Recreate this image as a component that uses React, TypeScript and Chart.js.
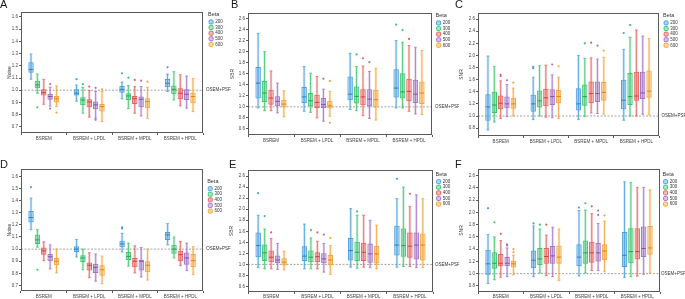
import React, { useEffect, useRef } from 'react';
import { Chart, registerables } from 'chart.js';

Chart.register(...registerables);
Chart.defaults.font.family = '"Liberation Sans", Arial, sans-serif';

// ---------- categories & labels ----------
const groups = ['BSREM', 'BSREM + LPDL', 'BSREM + MPDL', 'BSREM + HPDL'];
const betas = ['200', '300', '400', '500', '600'];
const noiseTicks = [0.7, 0.8, 0.9, 1.0, 1.1, 1.2, 1.3, 1.4, 1.5, 1.6];
const ratioTicksSBR = [0.6, 0.8, 1.0, 1.2, 1.4, 1.6, 1.8, 2.0, 2.2, 2.4, 2.6];
const ratioTicksSNR = [0.8, 1.0, 1.2, 1.4, 1.6, 1.8, 2.0, 2.2, 2.4, 2.6];
const referenceValue = 1.0;
const referenceLabel = 'OSEM+PSF';

// ---------- box statistics: [lower whisker, Q1, median, Q3, upper whisker] per group ----------
// Panel A – Noise
const A_200 = [[1.09, 1.143, 1.17, 1.228, 1.296], [0.91, 0.956, 0.975, 1.007, 1.043], [0.929, 0.98, 1.007, 1.035, 1.067], [0.99, 1.024, 1.057, 1.092, 1.133]];
const A_300 = [[0.975, 1.016, 1.043, 1.078, 1.133], [0.812, 0.877, 0.92, 0.942, 1.024], [0.85, 0.92, 0.953, 0.975, 1.038], [0.92, 0.967, 1.007, 1.038, 1.152]];
const A_400 = [[0.885, 0.956, 0.98, 1.007, 1.089], [0.78, 0.861, 0.904, 0.926, 0.997], [0.812, 0.888, 0.93, 0.953, 1.03], [0.872, 0.926, 0.975, 1.016, 1.127]];
const A_500 = [[0.87, 0.923, 0.948, 0.97, 1.024], [0.77, 0.845, 0.88, 0.907, 0.99], [0.79, 0.861, 0.926, 0.948, 1.03], [0.853, 0.92, 0.967, 1.007, 1.116]];
const A_600 = [[0.866, 0.899, 0.93, 0.953, 1.035], [0.744, 0.825, 0.866, 0.888, 0.99], [0.77, 0.853, 0.907, 0.934, 1.024], [0.825, 0.893, 0.948, 0.98, 1.097]];
// [group, beta, value]
const A_out = [[0, 1, 0.86], [0, 3, 1.05], [0, 3, 0.85], [0, 4, 0.817], [1, 0, 1.09], [1, 1, 1.05], [1, 2, 1.03], [1, 3, 1.02], [1, 3, 0.758], [1, 4, 1.007], [2, 0, 1.138], [2, 1, 1.103], [2, 2, 1.084], [2, 3, 1.078], [2, 4, 1.07], [3, 0, 1.187]];

// Panel B – SBR
const B_200 = [[0.98, 1.15, 1.43, 1.72, 2.33], [0.92, 1.07, 1.18, 1.36, 1.73], [0.95, 1.12, 1.23, 1.55, 1.97], [0.98, 1.17, 1.34, 1.68, 2.2]];
const B_300 = [[0.93, 1.09, 1.25, 1.47, 2.0], [0.9, 1.01, 1.11, 1.25, 1.61], [0.93, 1.06, 1.19, 1.37, 1.73], [0.98, 1.15, 1.27, 1.61, 2.17]];
const B_400 = [[0.93, 1.04, 1.16, 1.31, 1.65], [0.8, 0.98, 1.08, 1.22, 1.55], [0.84, 1.03, 1.18, 1.32, 1.74], [0.92, 1.1, 1.28, 1.51, 2.11]];
const B_500 = [[0.89, 1.01, 1.1, 1.19, 1.43], [0.74, 0.98, 1.04, 1.16, 1.32], [0.79, 1.01, 1.14, 1.32, 1.64], [0.87, 1.07, 1.23, 1.49, 2.08]];
const B_600 = [[0.82, 0.99, 1.05, 1.13, 1.29], [0.83, 0.97, 1.02, 1.11, 1.28], [0.76, 0.99, 1.13, 1.31, 1.7], [0.86, 1.05, 1.25, 1.46, 2.02]];
const B_out = [[1, 3, 1.51], [1, 4, 1.47], [1, 4, 0.71], [2, 1, 1.95], [2, 2, 1.88], [2, 3, 1.81], [3, 0, 2.49], [3, 1, 2.39], [3, 2, 2.23]];

// Panel C – SNR
const C_200 = [[0.77, 0.92, 1.15, 1.36, 1.99], [0.94, 1.07, 1.2, 1.35, 1.64], [0.94, 1.09, 1.2, 1.46, 2.0], [0.93, 1.11, 1.26, 1.6, 2.1]];
const C_300 = [[0.9, 1.05, 1.18, 1.4, 1.82], [1.0, 1.14, 1.25, 1.42, 1.83], [0.99, 1.17, 1.32, 1.52, 1.95], [1.0, 1.18, 1.32, 1.71, 2.3]];
const C_400 = [[0.96, 1.11, 1.21, 1.34, 1.58], [0.98, 1.16, 1.3, 1.45, 1.84], [1.05, 1.21, 1.37, 1.57, 1.96], [1.0, 1.25, 1.33, 1.73, 2.42]];
const C_500 = [[0.99, 1.13, 1.2, 1.32, 1.52], [0.97, 1.18, 1.32, 1.44, 1.68], [1.04, 1.23, 1.37, 1.57, 1.94], [1.03, 1.28, 1.38, 1.73, 2.32]];
const C_600 = [[1.0, 1.12, 1.2, 1.3, 1.46], [0.96, 1.21, 1.32, 1.43, 1.64], [1.03, 1.25, 1.39, 1.56, 1.97], [1.02, 1.3, 1.41, 1.75, 2.28]];
const C_out = [[0, 2, 1.68], [0, 2, 1.66], [0, 3, 1.59], [0, 4, 1.55], [1, 0, 1.81], [1, 0, 1.79], [1, 3, 1.85], [1, 4, 1.82], [2, 1, 2.2], [2, 2, 2.21], [2, 3, 2.16], [2, 4, 2.08], [3, 0, 2.37], [3, 1, 2.5]];

// Panel D – Noise
const D_200 = [[1.16, 1.22, 1.26, 1.315, 1.42], [0.935, 0.976, 1.0, 1.024, 1.08], [0.976, 1.016, 1.043, 1.068, 1.13], [1.035, 1.076, 1.117, 1.14, 1.21]];
const D_300 = [[1.016, 1.043, 1.076, 1.12, 1.16], [0.83, 0.894, 0.927, 0.95, 1.0], [0.86, 0.91, 0.94, 0.976, 1.05], [0.927, 0.962, 1.0, 1.035, 1.1]];
const D_400 = [[0.905, 0.954, 0.986, 1.014, 1.06], [0.764, 0.823, 0.867, 0.89, 0.97], [0.804, 0.85, 0.9, 0.927, 1.027], [0.864, 0.9, 0.954, 0.986, 1.063]];
const D_500 = [[0.837, 0.9, 0.937, 0.96, 1.035], [0.736, 0.804, 0.85, 0.88, 0.96], [0.77, 0.823, 0.9, 0.913, 1.014], [0.823, 0.872, 0.927, 0.973, 1.05]];
const D_600 = [[0.804, 0.867, 0.9, 0.927, 1.0], [0.715, 0.78, 0.83, 0.867, 0.943], [0.745, 0.81, 0.867, 0.9, 1.0], [0.79, 0.85, 0.905, 0.96, 1.02]];
const D_out = [[0, 0, 1.51], [0, 1, 0.83], [2, 0, 1.18], [2, 0, 1.17]];

// Panel E – SBR
const E_200 = [[0.94, 1.13, 1.34, 1.58, 1.89], [0.92, 1.06, 1.15, 1.33, 1.73], [0.95, 1.07, 1.25, 1.48, 2.01], [0.95, 1.16, 1.35, 1.7, 2.19]];
const E_300 = [[0.92, 1.06, 1.21, 1.36, 1.64], [0.92, 1.04, 1.13, 1.25, 1.48], [0.93, 1.06, 1.22, 1.41, 1.89], [0.96, 1.14, 1.34, 1.65, 2.4]];
const E_400 = [[0.92, 1.04, 1.13, 1.25, 1.47], [0.92, 1.04, 1.14, 1.22, 1.42], [0.95, 1.06, 1.22, 1.39, 1.89], [0.96, 1.12, 1.33, 1.58, 2.05]];
const E_500 = [[0.91, 1.02, 1.08, 1.16, 1.38], [0.86, 1.02, 1.1, 1.2, 1.38], [0.94, 1.03, 1.19, 1.38, 1.8], [0.94, 1.09, 1.35, 1.58, 2.26]];
const E_600 = [[0.9, 0.98, 1.04, 1.11, 1.24], [0.82, 0.99, 1.08, 1.17, 1.34], [0.92, 1.02, 1.19, 1.34, 1.71], [0.94, 1.07, 1.35, 1.56, 2.19]];
const E_out = [[0, 0, 2.29], [0, 1, 1.875], [0, 2, 1.58], [1, 1, 1.62], [1, 2, 1.58], [1, 3, 1.54], [1, 4, 1.48], [2, 1, 1.96], [3, 0, 2.55], [3, 2, 2.28]];

// Panel F – SNR
const F_200 = [[0.84, 0.98, 1.16, 1.39, 1.64], [0.95, 1.09, 1.22, 1.38, 1.78], [0.96, 1.12, 1.27, 1.48, 2.03], [0.94, 1.11, 1.3, 1.68, 2.5]];
const F_300 = [[0.9, 1.08, 1.17, 1.35, 1.6], [1.01, 1.14, 1.24, 1.42, 1.73], [1.01, 1.16, 1.34, 1.54, 2.04], [0.95, 1.17, 1.36, 1.74, 2.49]];
const F_400 = [[0.94, 1.12, 1.17, 1.32, 1.54], [0.97, 1.16, 1.28, 1.42, 1.63], [1.05, 1.18, 1.34, 1.52, 1.98], [0.96, 1.23, 1.36, 1.74, 2.41]];
const F_500 = [[0.95, 1.12, 1.17, 1.27, 1.42], [0.95, 1.16, 1.29, 1.45, 1.76], [1.05, 1.2, 1.34, 1.5, 1.82], [0.99, 1.27, 1.41, 1.77, 2.41]];
const F_600 = [[0.98, 1.1, 1.16, 1.21, 1.3], [0.89, 1.16, 1.27, 1.46, 1.73], [1.03, 1.22, 1.37, 1.48, 1.86], [1.01, 1.31, 1.42, 1.78, 2.37]];
const F_out = [[0, 0, 2.07], [0, 1, 1.84], [0, 2, 1.65], [0, 3, 1.48], [0, 3, 1.46], [0, 4, 1.4], [0, 4, 1.35], [1, 0, 1.82], [1, 1, 1.8], [1, 2, 1.8], [2, 0, 2.08], [2, 1, 2.15], [2, 2, 2.1], [2, 3, 2.03], [2, 3, 1.96], [2, 4, 1.95]];

// ---------- styles ----------
const lineColors = ['#4AA0DE', '#3CC56F', '#E6625D', '#A274C6', '#F2A53A'];
const fillColors = ['rgba(74,160,222,0.42)', 'rgba(60,197,111,0.42)', 'rgba(230,98,93,0.42)', 'rgba(162,116,198,0.42)', 'rgba(242,165,58,0.42)'];
const medianColors = ['#2E7DBE', '#27A055', '#C8443F', '#8152A8', '#D7861A'];
const bandColors = ['rgba(74,160,222,0.28)', 'rgba(60,197,111,0.28)', 'rgba(230,98,93,0.28)', 'rgba(162,116,198,0.28)', 'rgba(242,165,58,0.28)'];

type Panel = {
  letter: string; yTitle: string; series: number[][][]; outliers: number[][];
  ticks: number[]; min: number; max: number;
  left: number; top: number; w: number; h: number;
  padL: number; yW: number; chartTop: number; xH: number; xPad: number; legendW: number; gap: number;
  legendTitleTop: number; letterX: number; letterY: number; refOffset: number;
};

const panels: Panel[] = [
  { letter: 'A', yTitle: 'Noise', series: [A_200, A_300, A_400, A_500, A_600], outliers: A_out, ticks: noiseTicks, min: 0.65, max: 1.64,
    left: 0, top: 0, w: 232, h: 146, padL: 7, yW: 14, chartTop: 12, xH: 13, xPad: 1, legendW: 24, gap: 5, legendTitleTop: 0, letterX: 0, letterY: 8, refOffset: 3 },
  { letter: 'B', yTitle: 'SBR', series: [B_200, B_300, B_400, B_500, B_600], outliers: B_out, ticks: ratioTicksSBR, min: 0.49, max: 2.7,
    left: 228, top: 0, w: 231, h: 146, padL: 2, yW: 18, chartTop: 13, xH: 11, xPad: 1, legendW: 23.5, gap: 3.5, legendTitleTop: 0, letterX: 3, letterY: 8, refOffset: 3 },
  { letter: 'C', yTitle: 'SNR', series: [C_200, C_300, C_400, C_500, C_600], outliers: C_out, ticks: ratioTicksSNR, min: 0.67, max: 2.7,
    left: 455, top: 0, w: 230, h: 146, padL: 4, yW: 19, chartTop: 13, xH: 10, xPad: 1, legendW: 22, gap: 4, legendTitleTop: 0, letterX: 0, letterY: 8, refOffset: 2.5 },
  { letter: 'D', yTitle: 'Noise', series: [D_200, D_300, D_400, D_500, D_600], outliers: D_out, ticks: noiseTicks, min: 0.655, max: 1.66,
    left: 0, top: 146, w: 232, h: 153, padL: 7, yW: 14, chartTop: 23, xH: 8, xPad: 1, legendW: 25, gap: 4, legendTitleTop: 9.7, letterX: 0, letterY: 22, refOffset: 3 },
  { letter: 'E', yTitle: 'SBR', series: [E_200, E_300, E_400, E_500, E_600], outliers: E_out, ticks: ratioTicksSBR, min: 0.5, max: 2.71,
    left: 228, top: 146, w: 231, h: 153, padL: 1, yW: 19, chartTop: 24, xH: 7, xPad: 0.5, legendW: 23.5, gap: 2.5, legendTitleTop: 1.7, letterX: 1, letterY: 22, refOffset: 2 },
  { letter: 'F', yTitle: 'SNR', series: [F_200, F_300, F_400, F_500, F_600], outliers: F_out, ticks: ratioTicksSNR, min: 0.7, max: 2.71,
    left: 455, top: 146, w: 230, h: 153, padL: 4, yW: 19, chartTop: 23, xH: 7, xPad: 0.5, legendW: 22.5, gap: 2.5, legendTitleTop: 2.7, letterX: 0, letterY: 22, refOffset: 1 },
];

const boxPlugin = {
  id: 'boxDecor',
  beforeDatasetsDraw(chart: any) {
    const { ctx, chartArea } = chart;
    const y = chart.scales.y;
    const yRef = y.getPixelForValue(referenceValue);
    ctx.save();
    ctx.strokeStyle = '#8c8c8c';
    ctx.lineWidth = 0.8;
    ctx.setLineDash([2, 1.5]);
    ctx.beginPath();
    ctx.moveTo(chartArea.left, yRef);
    ctx.lineTo(chartArea.right, yRef);
    ctx.stroke();
    ctx.setLineDash([]);
    chart.data.datasets.forEach((ds: any, i: number) => {
      const meta = chart.getDatasetMeta(i);
      meta.data.forEach((bar: any, j: number) => {
        const s = ds.stats[j];
        const { x, width } = bar.getProps(['x', 'width'], true);
        const yLo = y.getPixelForValue(s[0]);
        const yHi = y.getPixelForValue(s[4]);
        const bw = width * 0.45;
        ctx.fillStyle = bandColors[i];
        ctx.fillRect(x - bw / 2, yHi, bw, yLo - yHi);
        ctx.strokeStyle = lineColors[i];
        ctx.lineWidth = 0.8;
        ctx.beginPath();
        ctx.moveTo(x, yLo); ctx.lineTo(x, yHi);
        const cw = width * 0.25;
        ctx.moveTo(x - cw, yLo); ctx.lineTo(x + cw, yLo);
        ctx.moveTo(x - cw, yHi); ctx.lineTo(x + cw, yHi);
        ctx.stroke();
      });
    });
    ctx.restore();
  },
  afterDatasetsDraw(chart: any) {
    const { ctx } = chart;
    const y = chart.scales.y;
    const cfg = chart.options.plugins.boxDecor;
    ctx.save();
    chart.data.datasets.forEach((ds: any, i: number) => {
      const meta = chart.getDatasetMeta(i);
      meta.data.forEach((bar: any, j: number) => {
        const s = ds.stats[j];
        const { x, width } = bar.getProps(['x', 'width'], true);
        const ym = y.getPixelForValue(s[2]);
        ctx.strokeStyle = medianColors[i];
        ctx.lineWidth = 1;
        ctx.beginPath();
        ctx.moveTo(x - width / 2 + 0.5, ym); ctx.lineTo(x + width / 2 - 0.5, ym);
        ctx.stroke();
      });
    });
    (cfg.outliers as number[][]).forEach(([g, b, v]) => {
      const bar = chart.getDatasetMeta(b).data[g];
      const { x } = bar.getProps(['x'], true);
      ctx.fillStyle = lineColors[b];
      ctx.beginPath();
      ctx.arc(x, y.getPixelForValue(v), 1.1, 0, Math.PI * 2);
      ctx.fill();
    });
    ctx.restore();
  },
  afterDraw(chart: any) {
    const { ctx, chartArea } = chart;
    const y = chart.scales.y;
    const cfg = chart.options.plugins.boxDecor;
    ctx.save();
    ctx.strokeStyle = '#5a5a5a';
    ctx.lineWidth = 1;
    ctx.strokeRect(Math.round(chartArea.left) + 0.5, Math.round(chartArea.top) + 0.5,
      Math.round(chartArea.right - chartArea.left) - 1, Math.round(chartArea.bottom - chartArea.top) - 1);
    ctx.fillStyle = '#333';
    ctx.font = '4.5px "Liberation Sans", Arial, sans-serif';
    ctx.textBaseline = 'middle';
    ctx.textAlign = 'left';
    ctx.fillText(referenceLabel, chartArea.right + cfg.refOffset, y.getPixelForValue(referenceValue));
    ctx.fillStyle = '#1a1a1a';
    ctx.font = '11px "Liberation Sans", Arial, sans-serif';
    ctx.textBaseline = 'alphabetic';
    ctx.fillText(cfg.letter, cfg.letterX, cfg.letterY);
    ctx.restore();
  },
};

function PanelChart({ p }: { p: Panel }) {
  const ref = useRef<HTMLCanvasElement>(null);
  useEffect(() => {
    if (!ref.current) return;
    const chart = new Chart(ref.current, {
      type: 'bar',
      data: {
        labels: groups,
        datasets: betas.map((b, i) => ({
          label: b,
          data: p.series[i].map((s) => [s[1], s[3]]),
          stats: p.series[i],
          backgroundColor: fillColors[i],
          borderColor: lineColors[i],
          borderWidth: 1,
          borderSkipped: false,
          yAxisID: 'y',
          xAxisID: 'x',
        })) as any,
      },
      options: {
        animation: false,
        responsive: false,
        devicePixelRatio: 1,
        events: [],
        layout: { padding: { left: p.padL, top: p.chartTop, right: 0, bottom: 0 } },
        datasets: { bar: { categoryPercentage: 0.7, barPercentage: 0.85 } },
        plugins: {
          tooltip: { enabled: false },
          legend: {
            position: 'right',
            align: 'start',
            maxWidth: p.legendW,
            labels: {
              boxWidth: 4, boxHeight: 4, padding: 1.1, color: '#333',
              font: { size: 4.5 }, useBorderRadius: true, borderRadius: 1,
            },
            title: { display: true, text: 'Beta', color: '#333', font: { size: 5.5 }, position: 'start', padding: { top: p.legendTitleTop, bottom: 0 } },
          },
          boxDecor: { outliers: p.outliers, letter: p.letter, letterX: p.letterX, letterY: p.letterY, refOffset: p.refOffset },
        } as any,
        scales: {
          x: {
            type: 'category',
            offset: true,
            grid: { drawOnChartArea: false, tickLength: 2, color: '#5a5a5a' },
            border: { display: false },
            ticks: { font: { size: 4.5 }, color: '#444', padding: p.xPad, maxRotation: 0, autoSkip: false },
            afterFit: (s: any) => { s.height = p.xH; },
          },
          y: {
            type: 'linear',
            min: p.min,
            max: p.max,
            afterBuildTicks: (s: any) => { s.ticks = p.ticks.map((v) => ({ value: v })); },
            grid: { drawOnChartArea: false, tickLength: 2, color: '#5a5a5a' },
            border: { display: false },
            ticks: { font: { size: 4.5 }, color: '#444', padding: 1, callback: (v: any) => Number(v).toFixed(1) },
            title: { display: true, text: p.yTitle, color: '#333', font: { size: 5 }, padding: 0 },
            afterFit: (s: any) => { s.width = p.yW; },
          },
          gapAxis: {
            type: 'linear',
            position: 'right',
            display: true,
            grid: { display: false },
            border: { display: false },
            ticks: { display: false },
            afterFit: (s: any) => { s.width = p.gap; },
          },
        } as any,
      },
      plugins: [boxPlugin],
    });
    return () => chart.destroy();
  }, [p]);
  return (
    <canvas
      ref={ref}
      width={p.w}
      height={p.h}
      style={{ position: 'absolute', left: p.left, top: p.top, width: p.w, height: p.h }}
    />
  );
}

export default function App() {
  return (
    <div style={{ position: 'fixed', left: 0, top: 0, width: 685, height: 299, background: '#fff', overflow: 'hidden' }}>
      {panels.map((p) => (
        <PanelChart key={p.letter} p={p} />
      ))}
    </div>
  );
}
